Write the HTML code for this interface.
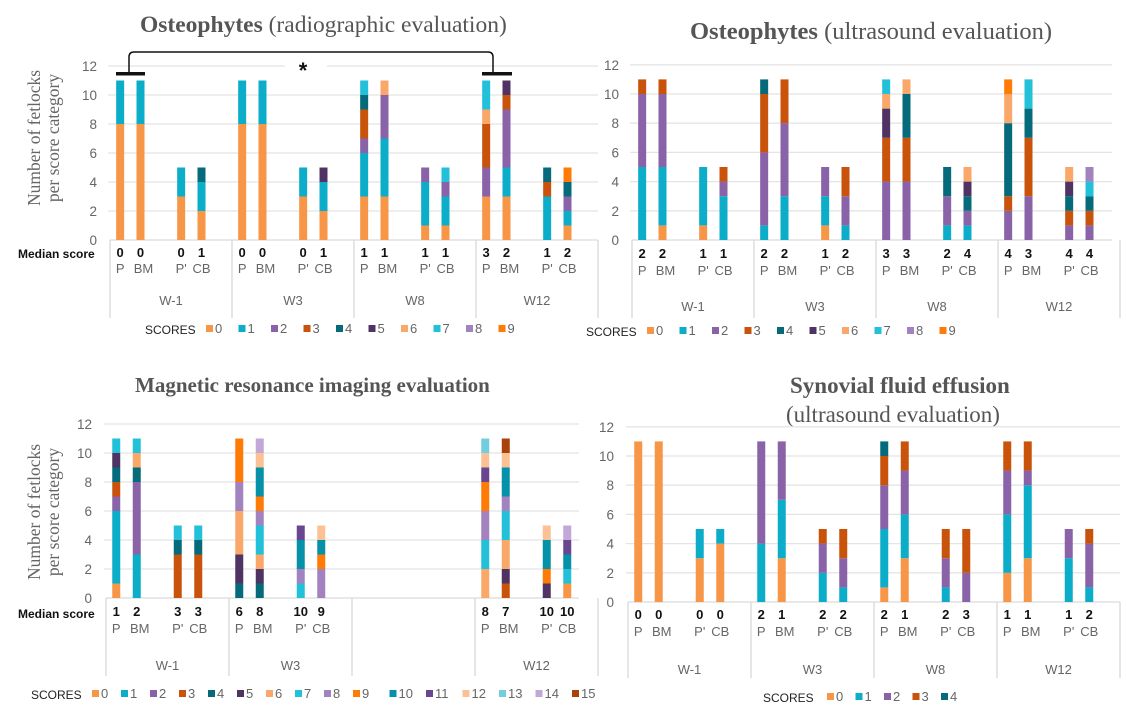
<!DOCTYPE html>
<html><head><meta charset="utf-8">
<style>
html,body{margin:0;padding:0;background:#fff;}
svg{display:block;font-family:"Liberation Sans",sans-serif;}
.serif{font-family:"Liberation Serif",serif;}
</style></head>
<body>
<svg id="fig" width="1126" height="728" viewBox="0 0 1126 728" xmlns="http://www.w3.org/2000/svg">
<text class="serif" x="140" y="32" font-size="23.5" fill="#555"><tspan font-weight="bold">Osteophytes</tspan> (radiographic evaluation)</text>
<text class="serif" x="690" y="39" font-size="24.5" fill="#555"><tspan font-weight="bold">Osteophytes</tspan> (ultrasound evaluation)</text>
<text class="serif" x="135" y="392" font-size="21" font-weight="bold" fill="#555">Magnetic resonance imaging evaluation</text>
<text class="serif" x="790" y="393" font-size="23" font-weight="bold" fill="#555">Synovial fluid effusion</text>
<text class="serif" x="786" y="422" font-size="23" fill="#555">(ultrasound evaluation)</text>
<text class="serif" transform="translate(40,138) rotate(-90)" font-size="17.5" fill="#666" text-anchor="middle">Number of fetlocks</text>
<text class="serif" transform="translate(59,138) rotate(-90)" font-size="17.5" fill="#666" text-anchor="middle">per score category</text>
<text class="serif" transform="translate(40,512) rotate(-90)" font-size="17.5" fill="#666" text-anchor="middle">Number of fetlocks</text>
<text class="serif" transform="translate(59,512) rotate(-90)" font-size="17.5" fill="#666" text-anchor="middle">per score category</text>
<text x="18" y="258" font-size="12" font-weight="bold" fill="#111">Median score</text>
<text x="18" y="618" font-size="12" font-weight="bold" fill="#111">Median score</text>
<g id="layer"></g>
</svg>
<script>
// score colours
const scoreColors = ['#f79646','#0badc8','#8a62a8','#c9530a','#056b7b','#4f3463','#f9a86a','#22c1d9','#a283bf','#ff7b05','#0592a8','#6a4590','#fcc095','#72cde0','#c1a8d6','#a8420a'];
const groups = ['W-1','W3','W8','W12'];
const cats = ['P','BM',"P'",'CB'];
// Chart 1: radiographic osteophytes (counts indexed by score)
const radW1 = [[8,3],[8,3],[3,2],[2,2,0,0,1]];
const radW3 = [[8,3],[8,3],[3,2],[2,2,0,0,0,1]];
const radW8 = [[3,3,1,2,1,0,0,1],[3,4,3,0,0,0,1],[1,3,1],[1,2,1,0,0,0,0,1]];
const radW12 = [[3,0,2,3,0,0,1,2],[3,2,4,1,0,1],[0,3,0,1,1],[1,1,1,0,1,0,0,0,0,1]];
const radMedian = [0,0,0,1, 0,0,0,1, 1,1,1,1, 3,2,1,2];
// Chart 2: ultrasound osteophytes
const usW1 = [[0,5,5,1],[1,4,5,1],[1,4],[0,3,1,1]];
const usW3 = [[0,1,5,4,1],[0,3,5,3],[1,2,2],[0,1,2,2]];
const usW8 = [[0,0,4,3,0,2,1,1],[0,0,4,3,3,0,1],[0,1,2,0,2],[0,1,1,0,1,1,1]];
const usW12 = [[0,0,2,1,5,0,2,0,0,1],[0,0,3,4,2,0,0,2],[0,0,1,1,1,1,1],[0,0,1,1,1,0,0,1,1]];
const usMedian = [2,2,1,1, 2,2,1,2, 3,3,2,4, 4,3,4,4];
// Chart 3: MRI
const mriW1 = [[1,5,1,1,1,1,0,1],[0,3,5,0,1,0,1,1],[0,0,0,3,1,0,0,1],[0,0,0,3,1,0,0,1]];
const mriW3 = [[0,0,0,0,1,2,3,0,2,3],[0,0,0,0,1,1,1,2,1,1,2,0,1,0,1],[0,0,0,0,0,0,0,1,1,0,2,1],[0,0,0,0,0,0,0,0,2,1,1,0,1]];
const mriW8 = null;
const mriW12 = [[0,0,0,0,0,0,2,2,2,2,0,1,1,1],[0,0,0,1,0,1,2,2,1,0,2,0,1,0,0,1],[0,0,0,0,0,1,0,0,0,1,2,0,1],[1,0,0,0,0,0,0,1,0,0,1,1,0,0,1]];
const mriMedian = [1,2,3,3, 6,8,10,9, null,null,null,null, 8,7,10,10];
// Chart 4: synovial fluid
const synW1 = [[11],[11],[3,2],[4,1]];
const synW3 = [[0,4,7],[3,4,4],[0,2,2,1],[0,1,2,2]];
const synW8 = [[1,4,3,2,1],[3,3,3,2],[0,1,2,2],[0,0,2,3]];
const synW12 = [[2,4,3,2],[3,5,1,2],[0,3,2],[0,1,3,1]];
const synMedian = [0,0,0,0, 2,1,2,2, 2,1,2,3, 1,1,1,2];
const yTicks = [0,2,4,6,8,10,12];

const NS='http://www.w3.org/2000/svg';
const layer=document.getElementById('layer');
function mk(tag,attrs,parent){const e=document.createElementNS(NS,tag);for(const k in attrs)e.setAttribute(k,attrs[k]);(parent||layer).appendChild(e);return e;}
function txt(s,attrs,parent){const e=mk('text',attrs,parent);e.textContent=s;return e;}

function drawChart(id,cfg,data,medians,nScores,legendX,legendY,scoresX,legendSpacing){
  const g=mk('g',{});
  
  
  const yScale=v=>cfg.y0-v*cfg.ppu;
  const slot=cfg.gw/6;
  const xScale=(gi,ci)=>cfg.x0+gi*cfg.gw+slot*((ci<2?ci:ci+1)+0.5);
  yTicks.forEach(t=>{
    if(t>0){const l=mk('line',{x1:cfg.x0-2,x2:cfg.right,y1:yScale(t),y2:yScale(t),stroke:'#e4e4e4','stroke-width':1.3},g);
      
      }
    const tl=txt(String(t),{x:cfg.tickX,y:yScale(t)+5,'font-size':13.5,fill:'#666','text-anchor':'end'},g);
    
    
  });
  const ax=mk('line',{x1:cfg.x0,x2:cfg.right,y1:cfg.y0,y2:cfg.y0,stroke:'#d9d9d9','stroke-width':1.3},g);
  
  
  for(let i=0;i<=4;i++){
    const d=mk('line',{x1:cfg.x0+i*cfg.gw,x2:cfg.x0+i*cfg.gw,y1:cfg.y0,y2:cfg.divBottom,stroke:'#d9d9d9','stroke-width':1.3},g);
    
    
  }
  groups.forEach((gn,gi)=>{
    if(!data[gi])return;
    const gl=txt(gn,{x:cfg.x0+gi*cfg.gw+cfg.gw/2,y:cfg.grpY,'font-size':13,fill:'#666','text-anchor':'middle'},g);
    
    
    data[gi].forEach((counts,ci)=>{
      const cx=xScale(gi,ci);
      let acc=0;
      counts.forEach((c,s)=>{
        if(!c)return;
        const r=mk('rect',{x:cx-4,y:yScale(acc+c),width:8,height:c*cfg.ppu,fill:scoreColors[s]},g);
        
        
        acc+=c;
      });
      const m=medians[gi*4+ci];
      if(m!==null){
        const mt=txt(String(m),{x:cx,y:cfg.medY,'font-size':13,'font-weight':'bold',fill:'#111','text-anchor':'middle'},g);
        
        
      }
      const cl=txt(cats[ci],{x:cx+(ci==1?3:0),y:cfg.catY,'font-size':13,fill:'#666','text-anchor':'middle'},g);
      
      
    });
  });
  if(scoresX!==null){
    const st=txt('SCORES',{x:scoresX,y:legendY+5,'font-size':12,fill:'#222'},g);
    
    
  }
  let lx=legendX;
  for(let s=0;s<nScores;s++){
    const le=mk('g',{},g);
    
    
    mk('rect',{x:lx,y:legendY-4,width:7,height:7,fill:scoreColors[s]},le);
    txt(String(s),{x:lx+9,y:legendY+4,'font-size':13,fill:'#666'},le);
    lx+= s>=9 ? 36.5 : legendSpacing;
  }
}
drawChart('radiographic',{x0:110,gw:122,y0:240,ppu:14.5,right:598,tickX:97,medY:257,catY:273,grpY:305,divBottom:318},[radW1,radW3,radW8,radW12],radMedian,10,206,329,145,32.5);
drawChart('ultrasound',{x0:632,gw:122,y0:240,ppu:14.6,right:1112,tickX:619,medY:258,catY:275,grpY:311,divBottom:318},[usW1,usW3,usW8,usW12],usMedian,10,647,331,586,32.5);
drawChart('mri',{x0:106,gw:123,y0:598,ppu:14.5,right:579,tickX:92,medY:616,catY:633,grpY:670,divBottom:676},[mriW1,mriW3,mriW8,mriW12],mriMedian,16,92,694,31,29);
drawChart('synovial',{x0:628,gw:123,y0:602,ppu:14.6,right:1120,tickX:614,medY:619,catY:636,grpY:674,divBottom:678},[synW1,synW3,synW8,synW12],synMedian,5,827,697,763,28.5);

// significance bracket (radiographic chart)
const br=mk('path',{d:'M129 74 L129 57 Q129 52 134 52 L488 52 Q493 52 493 57 L493 74',fill:'none',stroke:'#111','stroke-width':1.5});


const b1=mk('rect',{x:116,y:72,width:29,height:3.5,fill:'#111'});


const b2=mk('rect',{x:482,y:72,width:30,height:3.5,fill:'#111'});


const gap=mk('rect',{x:285,y:63,width:42,height:6,fill:'#fff'});


const ast=txt('*',{x:303,y:78,'font-size':22,'font-weight':'bold',fill:'#111','text-anchor':'middle'});


</script>
</body></html>
